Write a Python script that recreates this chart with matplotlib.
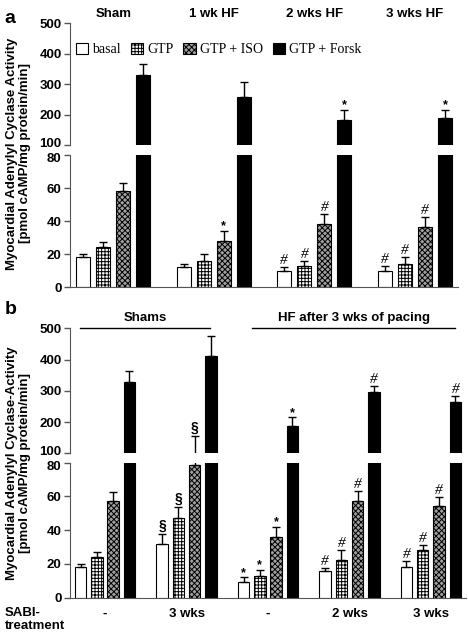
import matplotlib
matplotlib.use("Agg")
import matplotlib.pyplot as plt
import matplotlib.transforms as mtransforms
from matplotlib.patches import Patch

plt.rcParams['font.family'] = ['Liberation Sans', 'DejaVu Sans']
plt.rcParams['font.weight'] = 'bold'
plt.rcParams['hatch.linewidth'] = 0.7

series = ["basal", "GTP", "GTP + ISO", "GTP + Forsk"]

# --- panel a data ---
a_groups = ["Sham", "1 wk HF", "2 wks HF", "3 wks HF"]
a_basal = [18, 12, 10, 10]
a_basal_err = [2, 2, 2, 3]
a_gtp = [24, 16, 13, 14]
a_gtp_err = [3, 4, 3, 4]
a_iso = [58, 28, 38, 36.5]
a_iso_err = [5, 6, 6, 6]
a_forsk = [330, 256, 182, 187]
a_forsk_err = [34, 49, 33, 28]
a_marks = [["", "", "", ""], ["", "", "*", ""], ["#", "#", "#", "*"], ["#", "#", "#", "*"]]

# --- panel b data ---
b_groups = ["-", "3 wks", "-", "2 wks", "3 wks"]
b_basal = [18, 32, 9, 16, 18]
b_basal_err = [2, 5.5, 3, 1.5, 4]
b_gtp = [24, 47, 13, 22.5, 28]
b_gtp_err = [3, 6.5, 3.5, 5.5, 3.5]
b_iso = [57.5, 78.5, 36, 57, 54.5]
b_iso_err = [5, 77, 6, 6, 5]
b_forsk = [329, 411, 187, 297, 265]
b_forsk_err = [34, 65, 28, 19, 19]
b_marks = [["", "", "", ""], ["§", "§", "§", ""], ["*", "*", "*", "*"],
           ["#", "#", "#", "#"], ["#", "#", "#", "#"]]

styles = [dict(facecolor="white", hatch=None),
          dict(facecolor="white", hatch="+++++"),
          dict(facecolor="#a0a0a0", hatch="xxxxxx"),
          dict(facecolor="black", hatch=None)]

width = 0.14
step = 0.2
spine_col = "#555555"


def draw_panel(fig, rect_up, rect_lo, values, errs, marks, ngroups):
    ax_up = fig.add_axes(rect_up)
    ax_lo = fig.add_axes(rect_lo)
    for ax, lim in [(ax_up, (100, 500)), (ax_lo, (0, 80))]:
        for k in range(4):
            xs = [g + (k - 1.5) * step for g in range(ngroups)]
            ax.bar(xs, values[k], width, color=styles[k]["facecolor"],
                   hatch=styles[k]["hatch"], edgecolor="black", linewidth=0.8)
            ax.errorbar(xs, values[k], yerr=[[0] * ngroups, errs[k]], fmt="none",
                        ecolor="black", elinewidth=1, capsize=2.8, capthick=1)
        ax.set_ylim(*lim)
        ax.set_xlim(-0.43, ngroups - 1 + 0.43)
        ax.set_xticks([])
        for s in ["top", "right"]:
            ax.spines[s].set_visible(False)
        ax.spines["left"].set_color(spine_col)
        ax.spines["bottom"].set_color(spine_col)
        ax.tick_params(axis="y", labelsize=9.5, color=spine_col, length=4, width=1, pad=2)
    ax_up.spines["bottom"].set_visible(False)
    ax_up.set_yticks([100, 200, 300, 400, 500])
    ax_lo.set_yticks([0, 20, 40, 60, 80])
    # nudge the labels at the break apart a little
    lab = ax_up.get_yticklabels()[0]
    lab.set_transform(lab.get_transform() +
                      mtransforms.ScaledTranslation(0, 2 / 72, fig.dpi_scale_trans))
    lab = ax_lo.get_yticklabels()[-1]
    lab.set_transform(lab.get_transform() +
                      mtransforms.ScaledTranslation(0, -2 / 72, fig.dpi_scale_trans))
    # significance marks
    for g in range(ngroups):
        for k in range(4):
            m = marks[g][k]
            if not m:
                continue
            top = values[k][g] + errs[k][g]
            ax = ax_up if top > 90 else ax_lo
            x = g + (k - 1.5) * step
            if m == "#":
                ax.annotate(m, (x, top), xytext=(0, 0), textcoords="offset points",
                            ha="center", va="bottom", fontsize=11, fontstyle="italic",
                            fontweight="normal", family="Liberation Serif")
            elif m == "*":
                ax.annotate(m, (x, top), xytext=(0, -1), textcoords="offset points",
                            ha="center", va="bottom", fontsize=9, fontweight="bold")
            else:
                ax.annotate(m, (x, top), xytext=(0, 1), textcoords="offset points",
                            ha="center", va="bottom", fontsize=10, fontweight="bold")
    return ax_up, ax_lo


fig = plt.figure(figsize=(4.68, 6.34), dpi=100)

# panel a
a_vals = [a_basal, a_gtp, a_iso, a_forsk]
a_errs = [a_basal_err, a_gtp_err, a_iso_err, a_forsk_err]
a_up, a_lo = draw_panel(fig, [0.1496, 0.7713, 0.829, 0.1924],
                        [0.1496, 0.5473, 0.829, 0.2082],
                        a_vals, a_errs, a_marks, len(a_groups))
for g, name in enumerate(a_groups):
    a_up.text(g, 1.075, name, transform=a_up.get_xaxis_transform(),
              ha="center", va="center", fontsize=9.5, fontweight="bold")
handles = [Patch(facecolor=styles[k]["facecolor"], hatch=styles[k]["hatch"],
                 edgecolor="black", linewidth=0.8) for k in range(4)]
a_up.legend(handles, series, loc="upper left", bbox_to_anchor=(0.0, 0.885),
            ncol=4, frameon=False, handlelength=0.9, handleheight=0.9,
            handletextpad=0.3, columnspacing=0.7, borderaxespad=0,
            prop={"family": "Liberation Serif", "size": 10, "weight": "normal"})
fig.text(0.01, 0.985, "a", fontsize=14, fontweight="bold", va="top")
fig.text(0.04, 0.758, "Myocardial Adenylyl Cyclase Activity\n[pmol cAMP/mg protein/min]",
         rotation=90, ha="center", va="center", fontsize=9.5, fontweight="bold",
         linespacing=1.1)

# panel b
b_vals = [b_basal, b_gtp, b_iso, b_forsk]
b_errs = [b_basal_err, b_gtp_err, b_iso_err, b_forsk_err]
b_up, b_lo = draw_panel(fig, [0.1496, 0.285, 0.846, 0.1972],
                        [0.1496, 0.0573, 0.846, 0.2129],
                        b_vals, b_errs, b_marks, len(b_groups))
tr = b_up.get_xaxis_transform()
b_up.plot([-0.31, 1.29], [1.005, 1.005], transform=tr, color="black", lw=1, clip_on=False)
b_up.plot([1.81, 4.29], [1.005, 1.005], transform=tr, color="black", lw=1, clip_on=False)
b_up.text(0.49, 1.08, "Shams", transform=tr, ha="center", va="center",
          fontsize=9.5, fontweight="bold")
b_up.text(3.05, 1.08, "HF after 3 wks of pacing", transform=tr, ha="center",
          va="center", fontsize=9.5, fontweight="bold")
for g, name in enumerate(b_groups):
    b_lo.text(g, -0.12, name, transform=b_lo.get_xaxis_transform(),
              ha="center", va="center", fontsize=9.5, fontweight="bold")
fig.text(0.01, 0.023, "SABI-\ntreatment", fontsize=9.5, fontweight="bold",
         va="center", ha="left", linespacing=1.2)
fig.text(0.01, 0.525, "b", fontsize=14, fontweight="bold", va="top")
fig.text(0.04, 0.27, "Myocardial Adenylyl Cyclase-Activity\n[pmol cAMP/mg protein/min]",
         rotation=90, ha="center", va="center", fontsize=9.5, fontweight="bold",
         linespacing=1.1)

fig.savefig("out.png", dpi=100)
